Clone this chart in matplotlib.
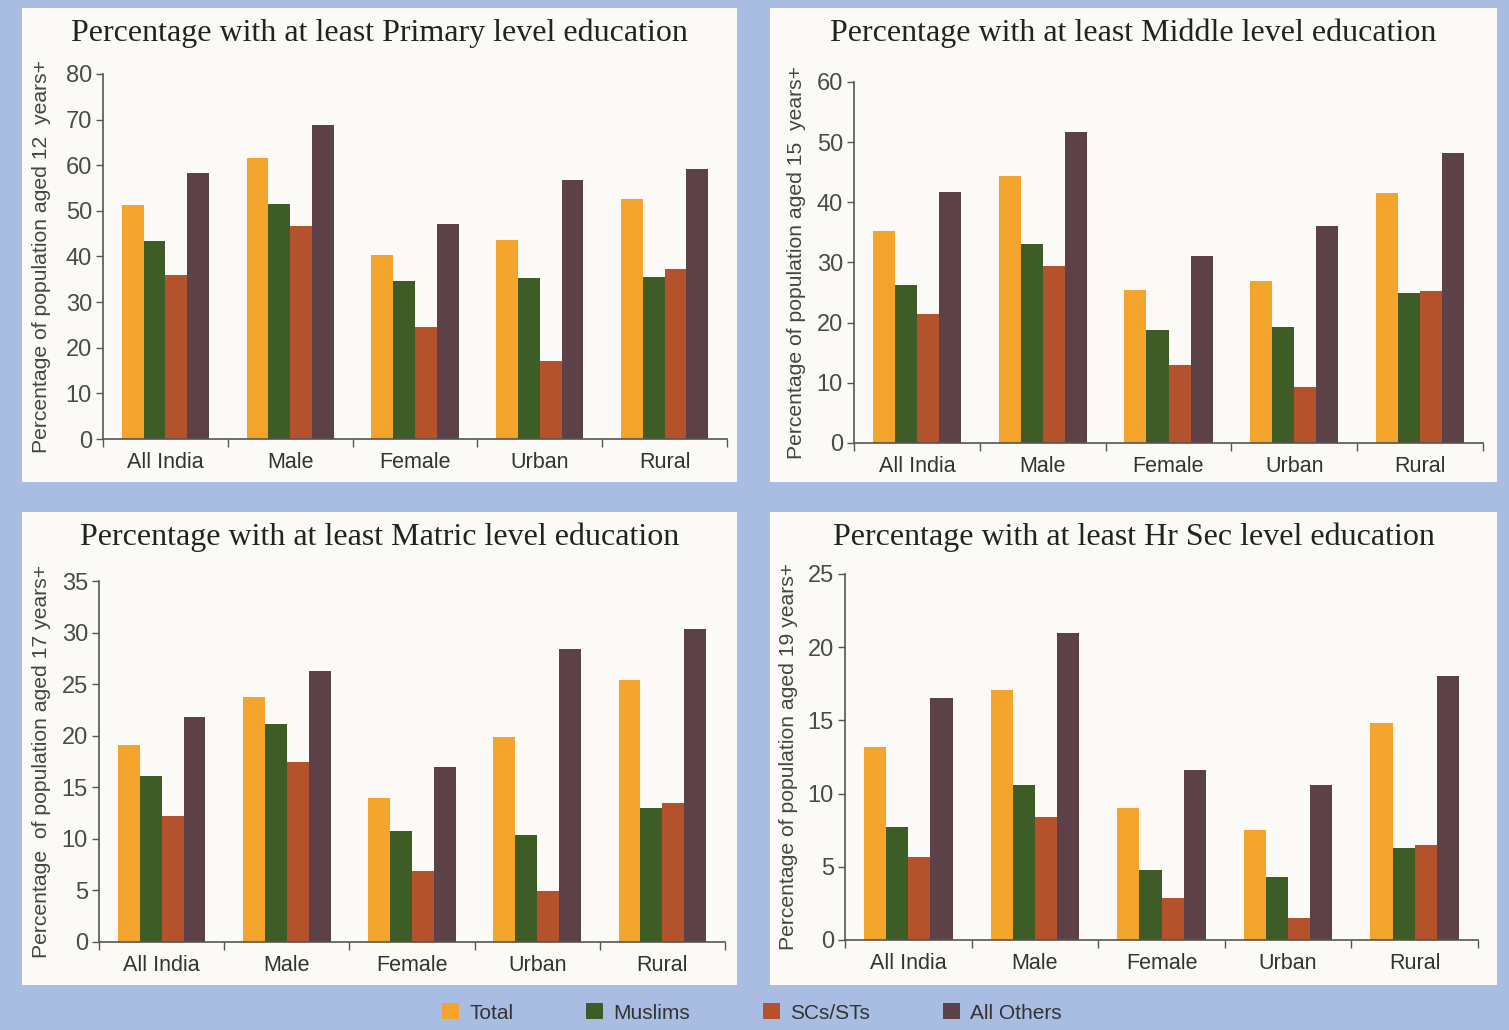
import numpy as np
import matplotlib.pyplot as plt
from matplotlib.patches import Rectangle

# Kategorien und Gruppen
categories = ["All India", "Male", "Female", "Urban", "Rural"]
groups = ["Total", "Muslims", "SCs/STs", "All Others"]
colors = ["#f2a42c", "#3e5c25", "#b4522c", "#5c4248"]

# Werte
primary_total = [51.2, 61.6, 40.4, 43.6, 52.6]
primary_muslims = [43.3, 51.5, 34.6, 35.3, 35.5]
primary_scst = [36.0, 46.7, 24.5, 17.2, 37.2]
primary_others = [58.4, 68.8, 47.1, 56.7, 59.2]

middle_total = [35.3, 44.4, 25.5, 27.0, 41.6]
middle_muslims = [26.2, 33.1, 18.8, 19.3, 25.0]
middle_scst = [21.5, 29.5, 12.9, 9.3, 25.3]
middle_others = [41.7, 51.7, 31.1, 36.0, 48.2]

matric_total = [19.1, 23.8, 14.0, 19.9, 25.4]
matric_muslims = [16.1, 21.1, 10.8, 10.4, 13.0]
matric_scst = [12.2, 17.5, 6.9, 4.9, 13.5]
matric_others = [21.8, 26.3, 17.0, 28.4, 30.3]

hrsec_total = [13.2, 17.1, 9.0, 7.5, 14.8]
hrsec_muslims = [7.7, 10.6, 4.8, 4.3, 6.3]
hrsec_scst = [5.7, 8.4, 2.9, 1.5, 6.5]
hrsec_others = [16.5, 21.0, 11.6, 10.6, 18.0]

W, H = 1509, 1030
fig = plt.figure(figsize=(W / 100, H / 100), dpi=100)
fig.patch.set_facecolor("#a9bde2")

sans = ["Liberation Sans", "DejaVu Sans"]
serif = ["Liberation Serif", "DejaVu Serif"]
gray = "#555555"


def px_rect(x0, y0, x1, y1):
    # Pixel (oben links) -> Figurkoordinaten
    return [x0 / W, 1 - y1 / H, (x1 - x0) / W, (y1 - y0) / H]


def panel(box, axbox, title, title_y, ylabel, ylab_x, series, ymax, step):
    l, b, w, h = px_rect(*box)
    fig.patches.append(Rectangle((l, b), w, h, transform=fig.transFigure,
                                 facecolor="#fbfaf6", edgecolor="none", zorder=-5))
    ax = fig.add_axes(px_rect(*axbox))
    ax.set_facecolor("none")
    x = np.arange(len(categories))
    bw = 0.175
    for i, vals in enumerate(series):
        ax.bar(x + (i - 1.5) * bw, vals, width=bw, color=colors[i], edgecolor="none")
    ax.set_xlim(-0.5, len(categories) - 0.5)
    ax.set_ylim(0, ymax)
    ax.set_yticks(np.arange(0, ymax + 0.1, step))
    ax.set_xticks(np.arange(-0.5, len(categories), 1.0))
    ax.set_xticklabels([])
    ax.tick_params(axis="x", direction="out", length=6, color=gray, width=1)
    ax.tick_params(axis="y", direction="out", length=5, color=gray, width=1,
                   labelsize=17, labelcolor="#4a4a4a", pad=3)
    for t in ax.get_yticklabels():
        t.set_family(sans)
    for i, c in enumerate(categories):
        ax.text(i, -0.035 * ymax, c, ha="center", va="top", fontsize=15.5,
                color="#333333", family=sans)
    for s in ["top", "right"]:
        ax.spines[s].set_visible(False)
    for s in ["left", "bottom"]:
        ax.spines[s].set_color(gray)
        ax.spines[s].set_linewidth(1.2)
    cx = (box[0] + box[2]) / 2
    fig.text(cx / W, 1 - title_y / H, title, ha="center", va="center",
             fontsize=23, color="#222222", family=serif)
    yc = (axbox[1] + axbox[3]) / 2
    fig.text(ylab_x / W, 1 - yc / H, ylabel, rotation=90, ha="center", va="center",
             fontsize=15.2, color="#444444", family=sans)
    return ax


panel((22, 8, 737, 482), (103, 74, 727, 439),
      "Percentage with at least Primary level education", 33,
      "Percentage of population aged 12  years+", 42,
      [primary_total, primary_muslims, primary_scst, primary_others], 80, 10)
panel((770, 8, 1497, 482), (854, 82, 1483, 443),
      "Percentage with at least Middle level education", 33,
      "Percentage of population aged 15  years+", 797,
      [middle_total, middle_muslims, middle_scst, middle_others], 60, 10)
panel((22, 512, 737, 985), (99, 581, 725, 942),
      "Percentage with at least Matric level education", 537,
      "Percentage  of population aged 17 years+", 42,
      [matric_total, matric_muslims, matric_scst, matric_others], 35, 5)
panel((770, 512, 1497, 985), (845, 574, 1478, 940),
      "Percentage with at least Hr Sec level education", 537,
      "Percentage of population aged 19 years+", 788,
      [hrsec_total, hrsec_muslims, hrsec_scst, hrsec_others], 25, 5)

handles = [Rectangle((0, 0), 1, 1, facecolor=c, edgecolor="none") for c in colors]
fig.legend(handles, groups, loc="center", bbox_to_anchor=(752 / W, 1 - 1013 / H),
           ncol=4, frameon=False, handlelength=0.8, handleheight=0.8,
           handletextpad=0.5, columnspacing=3.5,
           prop={"family": sans, "size": 15}, labelcolor="#333333")

fig.savefig("out.png", dpi=100, facecolor=fig.get_facecolor())
